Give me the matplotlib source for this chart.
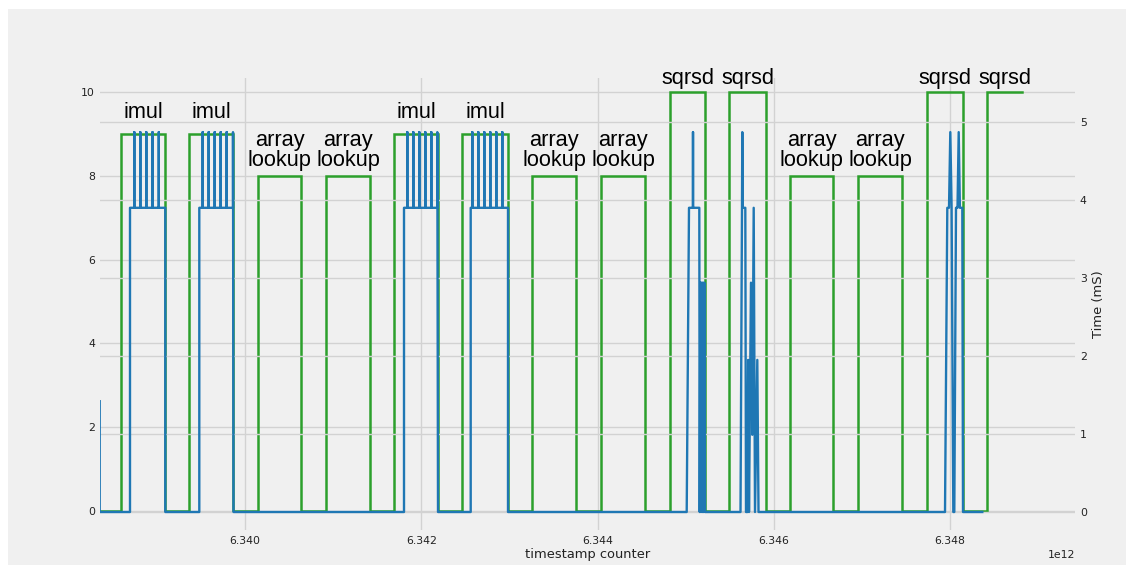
import matplotlib
matplotlib.use("Agg")
import matplotlib.pyplot as plt
from matplotlib.patches import Rectangle
import numpy as np

# Opcode trace (left axis): timestamp of each transition and the level after it
op_ts = [6338.3546e9, 6338.5929e9, 6339.0922e9, 6339.3645e9, 6339.8638e9,
         6340.1475e9, 6340.6355e9, 6340.9191e9, 6341.4184e9, 6341.6908e9,
         6342.1901e9, 6342.4624e9, 6342.9844e9, 6343.2567e9, 6343.7560e9,
         6344.0397e9, 6344.5390e9, 6344.8227e9, 6345.2199e9, 6345.4922e9,
         6345.9121e9, 6346.1844e9, 6346.6723e9, 6346.9560e9, 6347.4553e9,
         6347.7390e9, 6348.1475e9, 6348.4199e9, 6348.8170e9]
op_level = [0, 9, 0, 9, 0, 8, 0, 8, 0, 9, 0, 9, 0, 8, 0, 8, 0,
            10, 0, 10, 0, 8, 0, 8, 0, 10, 0, 10, 10]
op_names = ["imul", "imul", "array\nlookup", "array\nlookup", "imul", "imul",
            "array\nlookup", "array\nlookup", "sqrsd", "sqrsd",
            "array\nlookup", "array\nlookup", "sqrsd", "sqrsd"]

# Measured execution time (right axis, mS)
time_ts = [
    6338.3512e9, 6338.3512e9,
    6338.6950e9, 6338.6950e9,
    6338.7438e9, 6338.7438e9, 6338.7438e9,
    6338.8119e9, 6338.8119e9, 6338.8119e9,
    6338.8800e9, 6338.8800e9, 6338.8800e9,
    6338.9504e9, 6338.9504e9, 6338.9504e9,
    6339.0218e9, 6339.0218e9, 6339.0218e9,
    6339.0956e9, 6339.0956e9,
    6339.4814e9, 6339.4814e9,
    6339.5200e9, 6339.5200e9, 6339.5200e9,
    6339.5881e9, 6339.5881e9, 6339.5881e9,
    6339.6562e9, 6339.6562e9, 6339.6562e9,
    6339.7243e9, 6339.7243e9, 6339.7243e9,
    6339.7923e9, 6339.7923e9, 6339.7923e9,
    6339.8638e9, 6339.8638e9, 6339.8695e9,
    6341.8043e9, 6341.8043e9,
    6341.8417e9, 6341.8417e9, 6341.8417e9,
    6341.9098e9, 6341.9098e9, 6341.9098e9,
    6341.9779e9, 6341.9779e9, 6341.9779e9,
    6342.0460e9, 6342.0460e9, 6342.0460e9,
    6342.1140e9, 6342.1140e9, 6342.1140e9,
    6342.1821e9, 6342.1821e9, 6342.1901e9,
    6342.5611e9, 6342.5611e9,
    6342.5793e9, 6342.5793e9, 6342.5793e9,
    6342.6474e9, 6342.6474e9, 6342.6474e9,
    6342.7155e9, 6342.7155e9, 6342.7155e9,
    6342.7835e9, 6342.7835e9, 6342.7835e9,
    6342.8516e9, 6342.8516e9, 6342.8516e9,
    6342.9197e9, 6342.9197e9, 6342.9197e9,
    6342.9844e9, 6342.9844e9,
    6345.0122e9, 6345.0383e9,
    6345.0837e9, 6345.0837e9, 6345.0837e9,
    6345.1552e9, 6345.1597e9,
    6345.1677e9, 6345.1745e9, 6345.1824e9, 6345.1892e9,
    6345.1972e9, 6345.2040e9, 6345.2119e9, 6345.2199e9,
    6345.6227e9, 6345.6397e9, 6345.6431e9, 6345.6477e9,
    6345.6772e9, 6345.6851e9, 6345.7021e9, 6345.7101e9,
    6345.7191e9, 6345.7418e9, 6345.7566e9, 6345.7725e9,
    6345.7872e9, 6345.8133e9, 6345.8270e9,
    6347.9433e9, 6347.9694e9, 6347.9887e9, 6348.0034e9,
    6348.0182e9, 6348.0375e9, 6348.0488e9, 6348.0681e9,
    6348.0851e9, 6348.0987e9, 6348.1123e9, 6348.1396e9,
    6348.1475e9, 6348.3665e9,
]
time_ms = [
    1.42, 0.0,
    0.0, 3.9,
    3.9, 4.87, 3.9,
    3.9, 4.87, 3.9,
    3.9, 4.87, 3.9,
    3.9, 4.87, 3.9,
    3.9, 4.87, 3.9,
    3.9, 0.0,
    0.0, 3.9,
    3.9, 4.87, 3.9,
    3.9, 4.87, 3.9,
    3.9, 4.87, 3.9,
    3.9, 4.87, 3.9,
    3.9, 4.87, 3.9,
    3.9, 4.87, 0.0,
    0.0, 3.9,
    3.9, 4.87, 3.9,
    3.9, 4.87, 3.9,
    3.9, 4.87, 3.9,
    3.9, 4.87, 3.9,
    3.9, 4.87, 3.9,
    3.9, 4.87, 0.0,
    0.0, 3.9,
    3.9, 4.87, 3.9,
    3.9, 4.87, 3.9,
    3.9, 4.87, 3.9,
    3.9, 4.87, 3.9,
    3.9, 4.87, 3.9,
    3.9, 4.87, 3.9,
    3.9, 0.0,
    0.0, 3.9,
    3.9, 4.87, 3.9,
    3.9, 0.0,
    2.94, 0.0, 2.94, 0.0,
    2.94, 0.0, 2.94, 0.0,
    0.0, 3.9, 4.87, 3.9,
    3.9, 0.0, 0.0, 1.95,
    0.0, 2.94, 0.99, 3.9,
    0.0, 1.95, 0.0,
    0.0, 3.9, 3.9, 4.87,
    3.9, 0.0, 0.0, 3.9,
    3.9, 4.87, 3.9, 3.9,
    0.0, 0.0,
]

W, H = 1126, 565
fig = plt.figure(figsize=(W / 100, H / 100), dpi=100, facecolor="#f0f0f0")
# thin white margin along the top and left edges
fig.add_artist(Rectangle((0, 0), 8 / W, 1, transform=fig.transFigure,
                         facecolor="white", edgecolor="none"))
fig.add_artist(Rectangle((0, 1 - 9 / H), 1, 9 / H, transform=fig.transFigure,
                         facecolor="white", edgecolor="none"))

ax = fig.add_axes([100 / W, 1 - 530 / H, (1075 - 100) / W, (530 - 78) / H])
ax.set_facecolor("#f0f0f0")
ax2 = ax.twinx()

grid_kw = dict(color="#d2d2d2", linewidth=1.0)
ax.grid(True, **grid_kw)
ax2.grid(True, axis="y", **grid_kw)
ax2.grid(False, axis="x")
ax.set_axisbelow(True)
ax2.set_axisbelow(True)

ax.plot(op_ts, op_level, drawstyle="steps-post", color="#2ca02c",
        linewidth=1.8, solid_joinstyle="miter")
ax2.plot(time_ts, time_ms, color="#1f77b4", linewidth=1.7)

# label each active plateau with its instruction name
label_offset = {"imul": 0.27, "array\nlookup": 0.12, "sqrsd": 0.06}
starts = [i for i in range(len(op_level) - 1) if op_level[i] > 0]
for name, i in zip(op_names, starts):
    xc = (op_ts[i] + op_ts[i + 1]) / 2
    ax.text(xc, op_level[i] + label_offset[name], name, ha="center", va="bottom",
            fontsize=15.7, family="Liberation Sans", linespacing=0.95,
            color="black")

ax.set_xlim(6338.3546e9, 6349.4184e9)
ax.set_ylim(-0.4535, 10.334)
ax2.set_ylim(-0.2308, 5.564)
ax.set_xticks(np.arange(6340e9, 6348.5e9, 2e9))
ax.set_yticks([0, 2, 4, 6, 8, 10])
ax2.set_yticks([0, 1, 2, 3, 4, 5])

for a in (ax, ax2):
    for s in a.spines.values():
        s.set_visible(False)
    a.tick_params(length=0, labelsize=7.8, colors="#222222")
ax.tick_params(axis="x", pad=4)
ax.xaxis.get_offset_text().set_fontsize(7.8)
ax.xaxis.get_offset_text().set_color("#222222")

ax.set_xlabel("timestamp counter", fontsize=9.4, color="#222222", labelpad=2)
ax2.set_ylabel("Time (mS)", fontsize=9.4, color="#222222", labelpad=4)

fig.savefig("out.png", dpi=100, facecolor=fig.get_facecolor())
